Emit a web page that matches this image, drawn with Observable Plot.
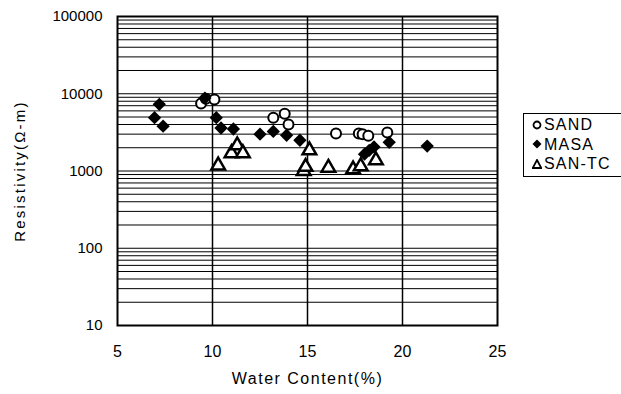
<!DOCTYPE html>
<html><head><meta charset="utf-8">
<script src="https://cdn.jsdelivr.net/npm/d3@7"></script>
<script src="https://cdn.jsdelivr.net/npm/@observablehq/plot@0.6"></script>
<style>
html,body{margin:0;padding:0;background:#fff;overflow:hidden}
#wrap{position:relative;width:621px;height:394px;font-family:"Liberation Sans",Arial,sans-serif}
#legend{position:absolute;left:523px;top:113px;width:120px;height:62px;border:1.5px solid #000;border-right:none;background:#fff;font-size:16px;letter-spacing:1.2px;color:#000}
.li{position:absolute;left:8px;height:20px;line-height:20px;white-space:nowrap}
.li svg{vertical-align:middle;margin-right:2px;margin-top:-2px}
</style></head><body>
<div id="wrap"></div>
<script>
// SAND (open circles)
const sandX = [9.4, 9.65, 10.1, 13.2, 13.8, 14.0, 16.5, 17.7, 17.9, 18.2, 19.2];
const sandY = [7500, 8600, 8400, 4900, 5500, 4000, 3050, 3050, 3000, 2850, 3150];
// MASA (filled diamonds)
const masaX = [6.95, 7.2, 7.4, 9.6, 10.2, 10.45, 11.1, 12.5, 13.2, 13.9, 14.6, 18.0, 18.25, 18.5, 19.3, 21.3];
const masaY = [4900, 7300, 3800, 8800, 4900, 3600, 3500, 3000, 3250, 2900, 2500, 1650, 1850, 2050, 2350, 2100];
// SAN-TC (open triangles)
const santcX = [10.3, 11.0, 11.3, 11.6, 14.8, 14.9, 15.1, 16.1, 17.4, 17.8, 18.6];
const santcY = [1180, 1700, 2150, 1700, 1000, 1130, 1850, 1100, 1050, 1150, 1380];

const xTicks = [5, 10, 15, 20, 25];
const yTicks = [10, 100, 1000, 10000, 100000];
const xGrid = [10, 15, 20];
const seriesNames = ["SAND", "MASA", "SAN-TC"];
const xTitle = "Water Content(%)";
const yTitle = "Resistivity(\u03A9-m)";

const yGrid = [];
for (let k = 1; k < 5; k++) for (let m = 1; m < 10; m++) yGrid.push(m * Math.pow(10, k));

const sand = sandX.map((x, i) => ({x, y: sandY[i]}));
const masa = masaX.map((x, i) => ({x, y: masaY[i]}));
const santc = santcX.map((x, i) => ({x, y: santcY[i]}));

const chart = Plot.plot({
  width: 621, height: 394,
  marginLeft: 117, marginRight: 124, marginTop: 16, marginBottom: 69,
  style: {fontFamily: '"Liberation Sans", Arial, sans-serif', fontSize: "15px", color: "#000", background: "#fff"},
  x: {domain: [5, 25]},
  y: {type: "log", domain: [10, 100000]},
  marks: [
    Plot.ruleY(yGrid, {stroke: "#000", strokeWidth: 1}),
    Plot.ruleX(xGrid, {stroke: "#000", strokeWidth: 1.5}),
    Plot.frame({stroke: "#000", strokeWidth: 2}),
    Plot.axisX({ticks: xTicks, tickFormat: d => String(d), tickSize: 0, tickPadding: 20, fontSize: 16, label: null}),
    Plot.axisY({ticks: yTicks, tickFormat: d => String(d), tickSize: 0, tickPadding: 15, fontSize: 15, label: null}),
    Plot.text([xTitle], {frameAnchor: "bottom", dy: 58, fontSize: 16, text: d => d, letterSpacing: 1.5}),
    Plot.text([yTitle], {frameAnchor: "left", textAnchor: "middle", dx: -97, rotate: -90, fontSize: 15, text: d => d}),
    Plot.dot(santc, {x: "x", y: "y", symbol: "triangle2", r: 6.5, stroke: "#000", strokeWidth: 2.5, fill: "#fff"}),
    Plot.dot(sand, {x: "x", y: "y", symbol: "circle", r: 5, stroke: "#000", strokeWidth: 2, fill: "#fff"}),
    Plot.dot(masa, {x: "x", y: "y", symbol: "diamond2", r: 6, fill: "#000", stroke: "none"})
  ]
});
// letter spacing on the titles
d3.select(chart).selectAll("text").filter(function() { return this.textContent === xTitle; }).style("letter-spacing", "1.5px");
d3.select(chart).selectAll("text").filter(function() { return this.textContent === yTitle; }).style("letter-spacing", "2.2px");
const wrap = document.getElementById("wrap");
wrap.appendChild(chart);

const legend = document.createElement("div");
legend.id = "legend";
const icons = [
  '<svg width="10" height="10"><circle cx="5" cy="5" r="3.5" fill="#fff" stroke="#000" stroke-width="1.8"/></svg>',
  '<svg width="10" height="10"><path d="M5,0.5L9.5,5L5,9.5L0.5,5Z" fill="#000"/></svg>',
  '<svg width="10" height="10"><path d="M5,1L9.3,9L0.7,9Z" fill="#fff" stroke="#000" stroke-width="1.8"/></svg>'
];
seriesNames.forEach((n, i) => {
  const d = document.createElement("div");
  d.className = "li";
  d.style.top = (1 + i * 19.5) + "px";
  d.innerHTML = icons[i] + n;
  legend.appendChild(d);
});
wrap.appendChild(legend);
</script>
</body></html>
